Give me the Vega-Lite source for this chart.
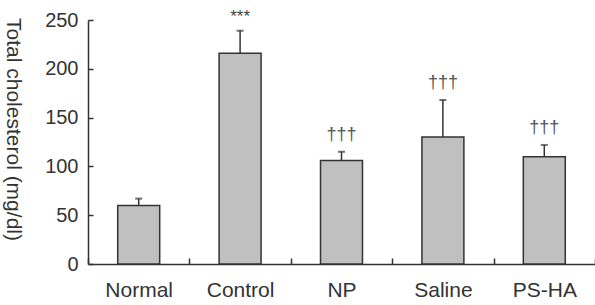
{
  "$schema": "https://vega.github.io/schema/vega-lite/v6.json",
  "width": 507,
  "height": 244,
  "autosize": {"type": "none"},
  "padding": {"left": 88, "top": 20, "right": 0, "bottom": 41},
  "background": "white",
  "config": {"view": {"stroke": null}, "font": "Liberation Sans"},
  "data": {
    "values": [
      {"group": "Normal", "value": 60, "err": 67, "mark": ""},
      {"group": "Control", "value": 216, "err": 239, "mark": "***"},
      {"group": "NP", "value": 106, "err": 115, "mark": "†††"},
      {"group": "Saline", "value": 130, "err": 168, "mark": "†††"},
      {"group": "PS-HA", "value": 110, "err": 122, "mark": "†††"}
    ]
  },
  "encoding": {
    "x": {
      "field": "group",
      "type": "nominal",
      "sort": null,
      "scale": {"paddingInner": 0, "paddingOuter": 0},
      "axis": {
        "title": null,
        "labelAngle": 0,
        "tickBand": "extent",
        "tickSize": -6,
        "tickColor": "#333",
        "tickWidth": 1.5,
        "domainColor": "#333",
        "domainWidth": 1.5,
        "labelFontSize": 21,
        "labelColor": "#333",
        "labelPadding": 21
      }
    }
  },
  "layer": [
    {
      "mark": {"type": "bar", "fill": "#c0c0c0", "stroke": "#333", "strokeWidth": 1.5, "width": {"band": 0.414}},
      "encoding": {
        "y": {
          "field": "value",
          "type": "quantitative",
          "title": "Total cholesterol (mg/dl)",
          "scale": {"domain": [0, 250], "nice": false},
          "axis": {
            "values": [0, 50, 100, 150, 200, 250],
            "grid": false,
            "tickSize": -5,
            "tickColor": "#333",
            "tickWidth": 1.5,
            "domainColor": "#333",
            "domainWidth": 1.5,
            "labelFontSize": 20,
            "labelColor": "#333",
            "labelPadding": 15,
            "titleAngle": 90,
            "titleX": -76,
            "titleY": 109,
            "titleAlign": "center",
            "titleBaseline": "middle",
            "titleFontSize": 21,
            "titleFontWeight": "normal",
            "titleColor": "#333"
          }
        }
      }
    },
    {
      "mark": {"type": "rule", "color": "#333", "strokeWidth": 1.5},
      "encoding": {
        "y": {"field": "value", "type": "quantitative", "title": "Total cholesterol (mg/dl)"},
        "y2": {"field": "err"}
      }
    },
    {
      "mark": {"type": "tick", "orient": "horizontal", "color": "#333", "size": 7, "thickness": 2},
      "encoding": {
        "y": {"field": "err", "type": "quantitative", "title": "Total cholesterol (mg/dl)"}
      }
    },
    {
      "transform": [{"filter": "datum.mark == '***'"}],
      "mark": {"type": "text", "fontSize": 17, "color": "#444", "baseline": "middle", "dy": -14},
      "encoding": {
        "y": {"field": "err", "type": "quantitative", "title": "Total cholesterol (mg/dl)"},
        "text": {"field": "mark"}
      }
    },
    {
      "transform": [{"filter": "datum.mark == '†††'"}],
      "mark": {"type": "text", "fontSize": 18, "color": "#555", "baseline": "middle", "dy": -17},
      "encoding": {
        "y": {"field": "err", "type": "quantitative", "title": "Total cholesterol (mg/dl)"},
        "text": {"field": "mark"}
      }
    }
  ]
}
